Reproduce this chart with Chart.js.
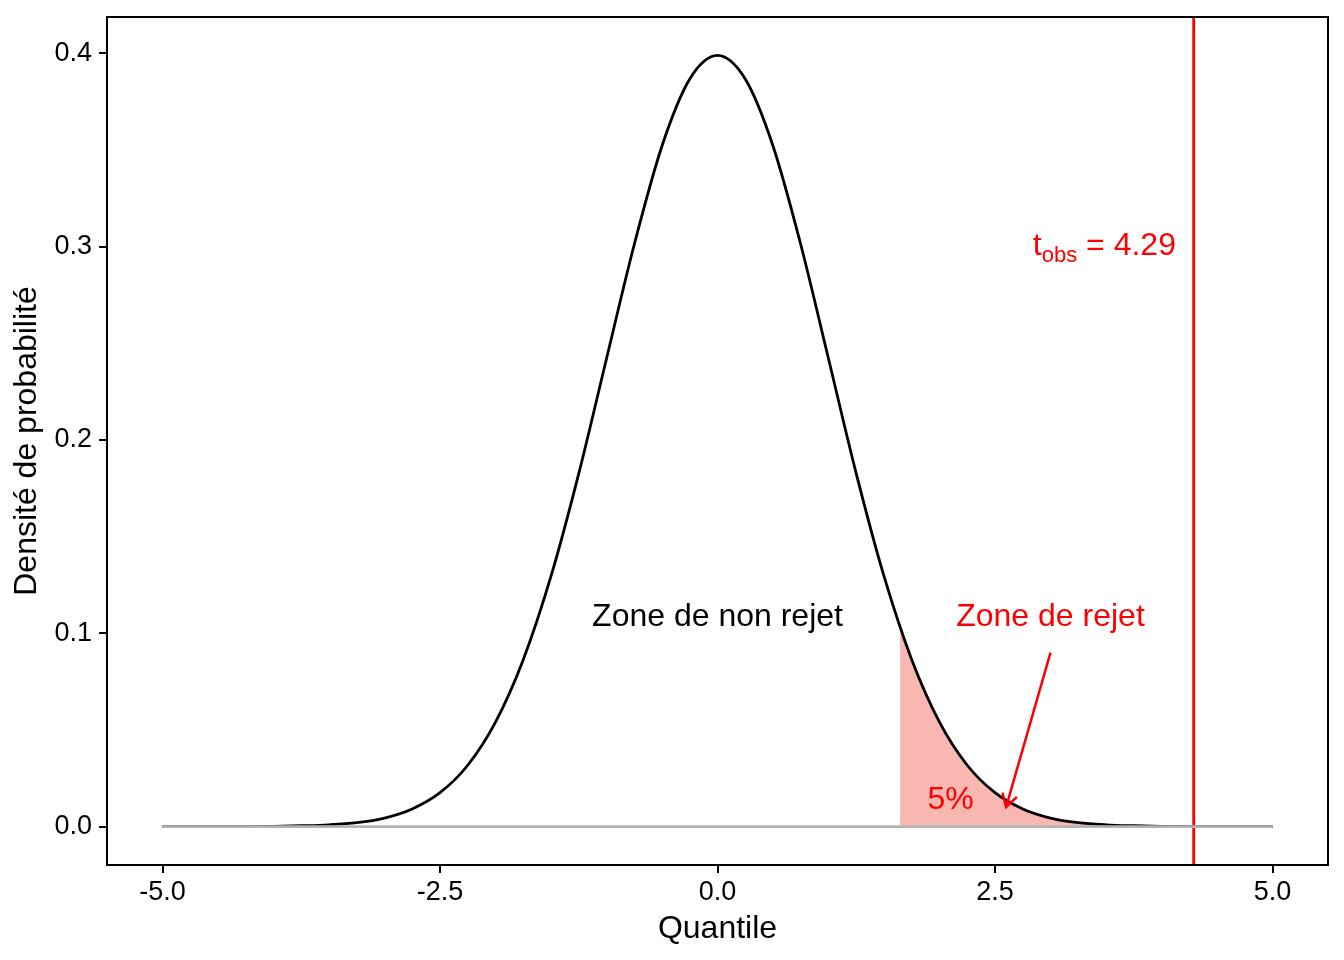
<!DOCTYPE html>
<html>
<head>
<meta charset="utf-8">
<script src="https://cdn.jsdelivr.net/npm/chart.js@4/dist/chart.umd.min.js"></script>
<style>
  html, body { margin: 0; padding: 0; background: #fff; }
</style>
</head>
<body>
<canvas id="myChart" width="1344" height="960"></canvas>
<script>
// densité de la loi normale
const quantiles = [-5, -4.75, -4.5, -4.25, -4, -3.75, -3.5, -3.25, -3, -2.75, -2.5, -2.25, -2, -1.75, -1.5, -1.25, -1, -0.75, -0.5, -0.25,
  0, 0.25, 0.5, 0.75, 1, 1.25, 1.5, 1.75, 2, 2.25, 2.5, 2.75, 3, 3.25, 3.5, 3.75, 4, 4.25, 4.5, 4.75, 5]
const densites = [0, 0, 0, 0, 0.0001, 0.0004, 0.0009, 0.0020, 0.0044, 0.0091, 0.0175, 0.0317, 0.0540, 0.0863, 0.1295, 0.1826, 0.2420, 0.3011, 0.3521, 0.3867,
  0.3989, 0.3867, 0.3521, 0.3011, 0.2420, 0.1826, 0.1295, 0.0863, 0.0540, 0.0317, 0.0175, 0.0091, 0.0044, 0.0020, 0.0009, 0.0004, 0.0001, 0, 0, 0, 0]

// zone de rejet (5%)
const rejetQuantiles = [1.645, 1.75, 2, 2.25, 2.5, 2.75, 3, 3.25, 3.5, 3.75, 4, 4.25, 4.5, 4.75, 5]
const rejetDensites = [0.1031, 0.0863, 0.0540, 0.0317, 0.0175, 0.0091, 0.0044, 0.0020, 0.0009, 0.0004, 0.0001, 0, 0, 0, 0]

const xTicks = [-5, -2.5, 0, 2.5, 5]
const yTicks = [0, 0.1, 0.2, 0.3, 0.4]
const tObs = 4.29
const ligneZeroX = [-5, 5]

const xMin = -5.5, xMax = 5.5
const yMin = -0.0199, yMax = 0.4188

const police = '"Liberation Sans", Arial, Helvetica, sans-serif'

function points(xs, ys) {
  return xs.map(function (x, i) { return { x: x, y: ys[i] } })
}

const annotations = {
  id: 'annotations',
  afterDatasetsDraw(chart) {
    const ctx = chart.ctx
    const xs = chart.scales.x, ys = chart.scales.y
    const a = chart.chartArea
    const px = v => xs.getPixelForValue(v)
    const py = v => ys.getPixelForValue(v)
    ctx.save()

    // textes
    ctx.textAlign = 'center'
    ctx.textBaseline = 'middle'
    ctx.font = '32px ' + police
    ctx.fillStyle = '#000'
    ctx.fillText('Zone de non rejet', px(0), py(0.1085))
    ctx.fillStyle = '#FF0000'
    ctx.fillText('Zone de rejet', px(3), py(0.1085))
    ctx.fillText('5%', px(2.1), py(0.0135))

    // t_obs = 4.29, aligné à droite
    const principal = ' = ' + tObs.toFixed(2)
    ctx.font = '32px ' + police
    const wMain = ctx.measureText(principal).width
    const wT = ctx.measureText('t').width
    ctx.font = '22px ' + police
    const wSub = ctx.measureText('obs').width
    let xr = px(4.13)
    let yb = py(0.3)
    ctx.textAlign = 'left'
    ctx.textBaseline = 'alphabetic'
    let x0 = xr - wMain - wSub - wT
    ctx.font = '32px ' + police
    ctx.fillText('t', x0, yb + 8)
    ctx.font = '22px ' + police
    ctx.fillText('obs', x0 + wT, yb + 15)
    ctx.font = '32px ' + police
    ctx.fillText(principal, x0 + wT + wSub, yb + 8)

    // flèche
    const x1 = px(3), y1 = py(0.09), x2 = px(2.6), y2 = py(0.01)
    ctx.strokeStyle = '#FF0000'
    ctx.lineWidth = 2.5
    ctx.beginPath()
    ctx.moveTo(x1, y1)
    ctx.lineTo(x2, y2)
    const ang = Math.atan2(y2 - y1, x2 - x1)
    const L = 15
    ctx.moveTo(x2 - L * Math.cos(ang - Math.PI / 6), y2 - L * Math.sin(ang - Math.PI / 6))
    ctx.lineTo(x2, y2)
    ctx.lineTo(x2 - L * Math.cos(ang + Math.PI / 6), y2 - L * Math.sin(ang + Math.PI / 6))
    ctx.stroke()

    // cadre du panneau
    ctx.strokeStyle = '#000'
    ctx.lineWidth = 2
    ctx.strokeRect(a.left, a.top, a.right - a.left, a.bottom - a.top)
    ctx.restore()
  }
}

const ctx = document.getElementById('myChart')

const data = {
  datasets: [
    {
      label: 'zéro',
      data: points(ligneZeroX, [0, 0]),
      borderColor: '#B3B3B3',
      borderWidth: 2.8,
      pointRadius: 0,
      order: 0
    },
    {
      label: 'tobs',
      data: [{ x: tObs, y: yMin }, { x: tObs, y: yMax }],
      borderColor: '#FF0000',
      borderWidth: 2.8,
      pointRadius: 0,
      order: 0
    },
    {
      label: 'densité',
      data: points(quantiles, densites),
      borderColor: '#000',
      borderWidth: 2.8,
      pointRadius: 0,
      cubicInterpolationMode: 'monotone',
      order: 1
    },
    {
      label: 'rejet',
      data: points(rejetQuantiles, rejetDensites),
      borderWidth: 0,
      borderColor: 'rgba(0,0,0,0)',
      backgroundColor: 'rgb(249, 183, 178)',
      fill: 'origin',
      pointRadius: 0,
      cubicInterpolationMode: 'monotone',
      order: 2
    }
  ]
}

const config = {
  type: 'line',
  data: data,
  options: {
    responsive: false,
    animation: false,
    layout: { padding: { top: 17, right: 16, left: 0, bottom: 0 } },
    plugins: {
      legend: { display: false },
      tooltip: { enabled: false }
    },
    scales: {
      x: {
        type: 'linear',
        min: xMin,
        max: xMax,
        afterBuildTicks: function (s) { s.ticks = xTicks.map(v => ({ value: v })) },
        afterFit: function (s) { s.height = 95; s.paddingLeft = 0; s.paddingRight = 0 },
        ticks: {
          color: '#000',
          font: { family: police, size: 27 },
          padding: 3,
          maxRotation: 0,
          callback: v => v.toFixed(1)
        },
        grid: { drawOnChartArea: false, drawTicks: true, tickLength: 8, color: '#000', lineWidth: 2 },
        border: { display: true, color: '#000', width: 2 },
        title: {
          display: true,
          text: 'Quantile',
          color: '#000',
          font: { family: police, size: 32 },
          padding: { top: 0, bottom: 12 }
        }
      },
      y: {
        type: 'linear',
        min: yMin,
        max: yMax,
        afterBuildTicks: function (s) { s.ticks = yTicks.map(v => ({ value: v })) },
        afterFit: function (s) { s.width = 107; s.paddingTop = 0; s.paddingBottom = 0 },
        ticks: {
          color: '#000',
          font: { family: police, size: 27 },
          padding: 7,
          callback: v => v.toFixed(1)
        },
        grid: { drawOnChartArea: false, drawTicks: true, tickLength: 8, color: '#000', lineWidth: 2 },
        border: { display: true, color: '#000', width: 2 },
        title: {
          display: true,
          text: 'Densité de probabilité',
          color: '#000',
          font: { family: police, size: 32 },
          padding: { top: 8, bottom: 0 }
        }
      }
    }
  },
  plugins: [annotations]
}

const myChart = new Chart(ctx, config)
</script>
</body>
</html>
